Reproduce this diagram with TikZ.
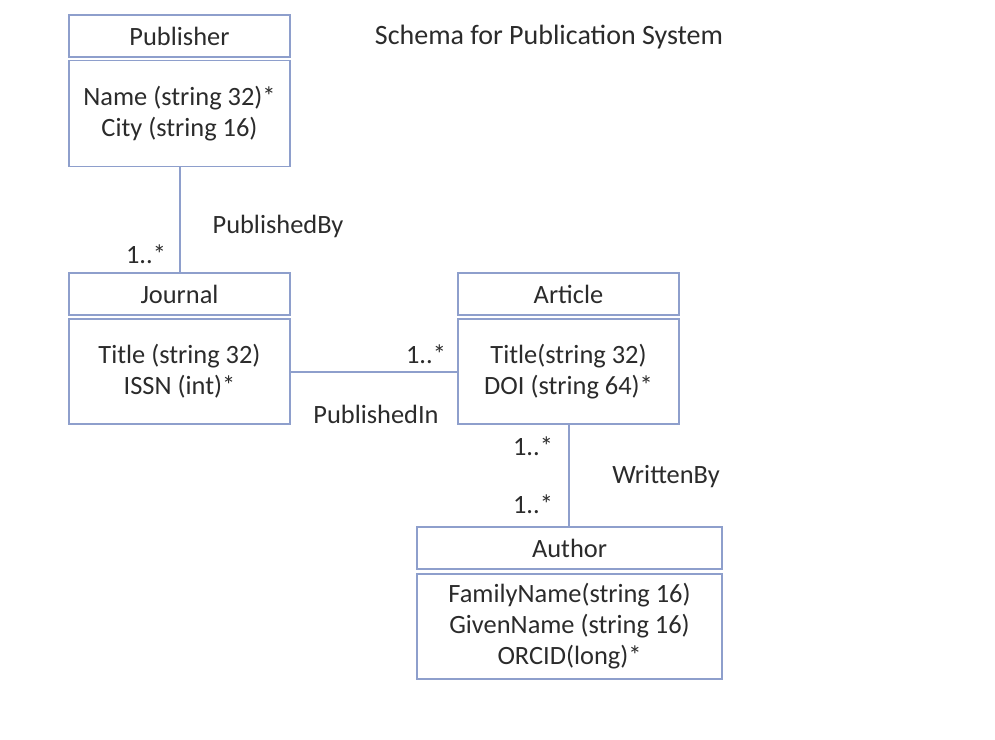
\documentclass[tikz,border=0pt]{standalone}
\usepackage{fontspec}
\setmainfont{Carlito}
\definecolor{boxline}{HTML}{8E9FCC}
\definecolor{txt}{HTML}{2B2B2B}
\begin{document}
\begin{tikzpicture}[x=0.5pt,y=-0.5pt,
  every node/.style={font=\fontsize{13.2}{15.5}\selectfont, text=txt, inner sep=0pt},
  hdr/.style={draw=boxline, line width=0.9pt, rectangle, minimum height=21pt},
  bdy/.style={draw=boxline, line width=0.9pt, rectangle, minimum height=52.5pt, align=center},
  conn/.style={draw=boxline, line width=1pt}]
\useasboundingbox (0,0) rectangle (995,739);
% Publisher
\node[hdr, minimum width=110.5pt] (pubH) at (179.5,36) {Publisher};
\node[bdy, minimum width=110.5pt, minimum height=53pt] (pubB) at (179.5,113.5) {Name (string 32)*\\City (string 16)};
% Journal
\node[hdr, minimum width=110.5pt] (jouH) at (179.5,294) {Journal};
\node[bdy, minimum width=110.5pt] (jouB) at (179.5,371.5) {Title (string 32)\\ISSN (int)*};
% Article
\node[hdr, minimum width=110.5pt] (artH) at (568.5,294) {Article};
\node[bdy, minimum width=110.5pt] (artB) at (568.5,371.5) {Title(string 32)\\DOI (string 64)*};
% Author
\node[hdr, minimum width=152.5pt] (autH) at (569.5,548) {Author};
\node[bdy, minimum width=152.5pt] (autB) at (569.5,626.5) {FamilyName(string 16)\\GivenName (string 16)\\ORCID(long)*};
% Title
\node[font=\fontsize{14}{16}\selectfont] (title) at (549,37) {Schema for Publication System};
% Connectors
\draw[conn] (pubB.south) -- (jouH.north);
\draw[conn] (jouB.east) -- (artB.west);
\draw[conn] (artB.south) -- (artB.south |- autH.north);
% Labels
\node (pb) at (278,226) {PublishedBy};
\node (m1) at (146,254) {1..*};
\node (m2) at (426,354) {1..*};
\node (pi) at (376,414) {PublishedIn};
\node (m3) at (533,446) {1..*};
\node (wb) at (666,477) {WrittenBy};
\node (m4) at (533,504) {1..*};
\end{tikzpicture}
\end{document}
